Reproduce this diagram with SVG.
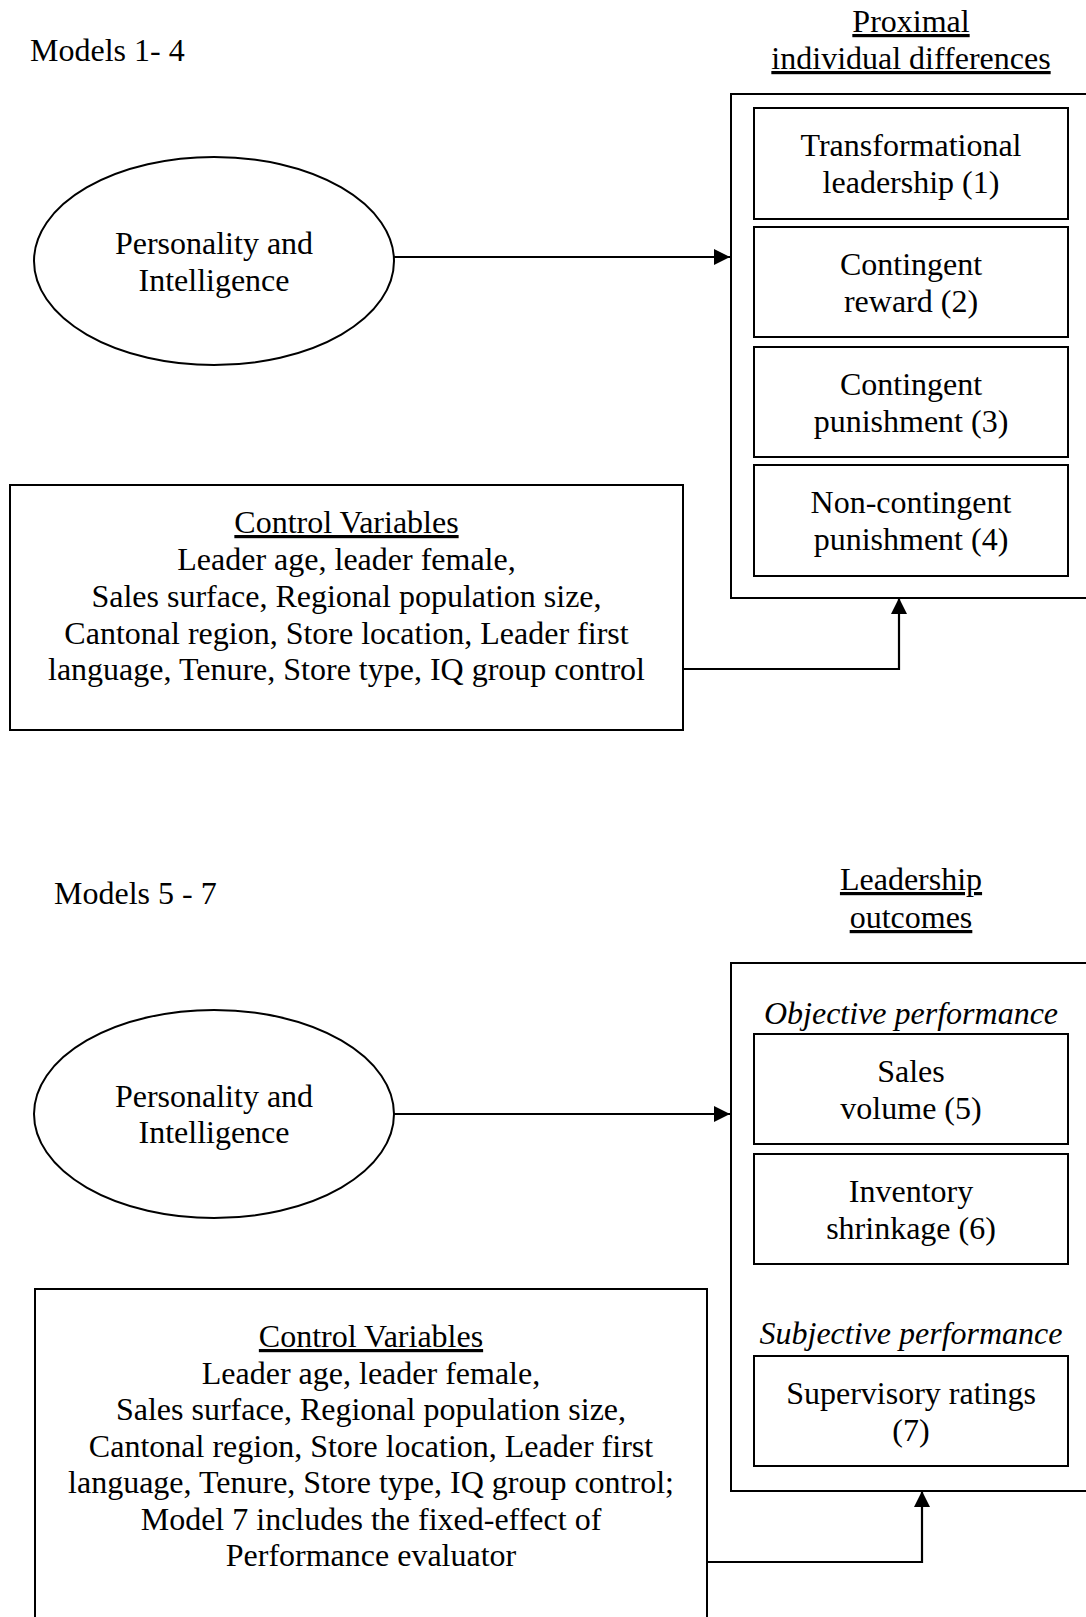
<svg xmlns="http://www.w3.org/2000/svg" width="1086" height="1617" viewBox="0 0 1086 1617">
<style>
text{font-family:"Liberation Serif","Times New Roman",serif;font-size:32px;fill:#000}
.c{text-anchor:middle}
.u{text-decoration:underline}
.i{font-style:italic}
.box{fill:#fff;stroke:#000;stroke-width:2}
.conn{fill:none;stroke:#000;stroke-width:2.2}
</style>
<defs>
<marker id="ah" markerUnits="userSpaceOnUse" markerWidth="17" markerHeight="16" refX="16" refY="8" orient="auto">
<path d="M0,0 L16,8 L0,16 z" fill="#000"/>
</marker>
</defs>
<rect width="1086" height="1617" fill="#fff"/>

<text x="30" y="61">Models 1- 4</text>
<g id="title1">
<text class="c u" x="911" y="32">Proximal</text>
<text class="c u" x="911" y="69">individual differences</text>
</g>
<g id="proximal-group">
<rect class="box" x="731" y="94" width="362" height="504"/>
</g>
<g id="n1"><rect class="box" x="754" y="108" width="314" height="111"/>
<text class="c" x="911" y="156">Transformational</text><text class="c" x="911" y="193">leadership (1)</text></g>
<g id="n2"><rect class="box" x="754" y="227" width="314" height="110"/>
<text class="c" x="911" y="275">Contingent</text><text class="c" x="911" y="312">reward (2)</text></g>
<g id="n3"><rect class="box" x="754" y="347" width="314" height="110"/>
<text class="c" x="911" y="395">Contingent</text><text class="c" x="911" y="432">punishment (3)</text></g>
<g id="n4"><rect class="box" x="754" y="465" width="314" height="111"/>
<text class="c" x="911" y="513">Non-contingent</text><text class="c" x="911" y="550">punishment (4)</text></g>
<g id="pi1"><ellipse class="box" cx="214" cy="261" rx="180" ry="104"/>
<text class="c" x="214" y="254">Personality and</text><text class="c" x="214" y="291">Intelligence</text></g>
<g id="cv1"><rect class="box" x="10" y="485" width="673" height="245"/>
<text class="c u" x="346.5" y="533">Control Variables</text>
<text class="c" x="346.5" y="570">Leader age, leader female,</text>
<text class="c" x="346.5" y="607">Sales surface, Regional population size,</text>
<text class="c" x="346.5" y="644">Cantonal region, Store location, Leader first</text>
<text class="c" x="346.5" y="680">language, Tenure, Store type, IQ group control</text></g>

<text x="54" y="904">Models 5 - 7</text>
<g id="title2">
<text class="c u" x="911" y="890">Leadership</text>
<text class="c u" x="911" y="928">outcomes</text>
</g>
<g id="outcome-group">
<rect class="box" x="731" y="963" width="362" height="528"/>
<text class="c i" x="911" y="1024">Objective performance</text>
<text class="c i" x="911" y="1344">Subjective performance</text>
</g>
<g id="n5"><rect class="box" x="754" y="1034" width="314" height="110"/>
<text class="c" x="911" y="1082">Sales</text><text class="c" x="911" y="1119">volume (5)</text></g>
<g id="n6"><rect class="box" x="754" y="1154" width="314" height="110"/>
<text class="c" x="911" y="1202">Inventory</text><text class="c" x="911" y="1239">shrinkage (6)</text></g>
<g id="n7"><rect class="box" x="754" y="1356" width="314" height="110"/>
<text class="c" x="911" y="1404">Supervisory ratings</text><text class="c" x="911" y="1441">(7)</text></g>
<g id="pi2"><ellipse class="box" cx="214" cy="1114" rx="180" ry="104"/>
<text class="c" x="214" y="1107">Personality and</text><text class="c" x="214" y="1143">Intelligence</text></g>
<g id="cv2"><rect class="box" x="35" y="1289" width="672" height="340"/>
<text class="c u" x="371" y="1347">Control Variables</text>
<text class="c" x="371" y="1384">Leader age, leader female,</text>
<text class="c" x="371" y="1420">Sales surface, Regional population size,</text>
<text class="c" x="371" y="1457">Cantonal region, Store location, Leader first</text>
<text class="c" x="371" y="1493">language, Tenure, Store type, IQ group control;</text>
<text class="c" x="371" y="1530">Model 7 includes the fixed-effect of</text>
<text class="c" x="371" y="1566">Performance evaluator</text></g>

<g id="connectors">
<path class="conn" d="M394,257 H730" marker-end="url(#ah)"/>
<path class="conn" d="M683,669 H899 V598" marker-end="url(#ah)"/>
<path class="conn" d="M394,1114 H730" marker-end="url(#ah)"/>
<path class="conn" d="M707,1562 H922 V1491" marker-end="url(#ah)"/>
</g>
</svg>
